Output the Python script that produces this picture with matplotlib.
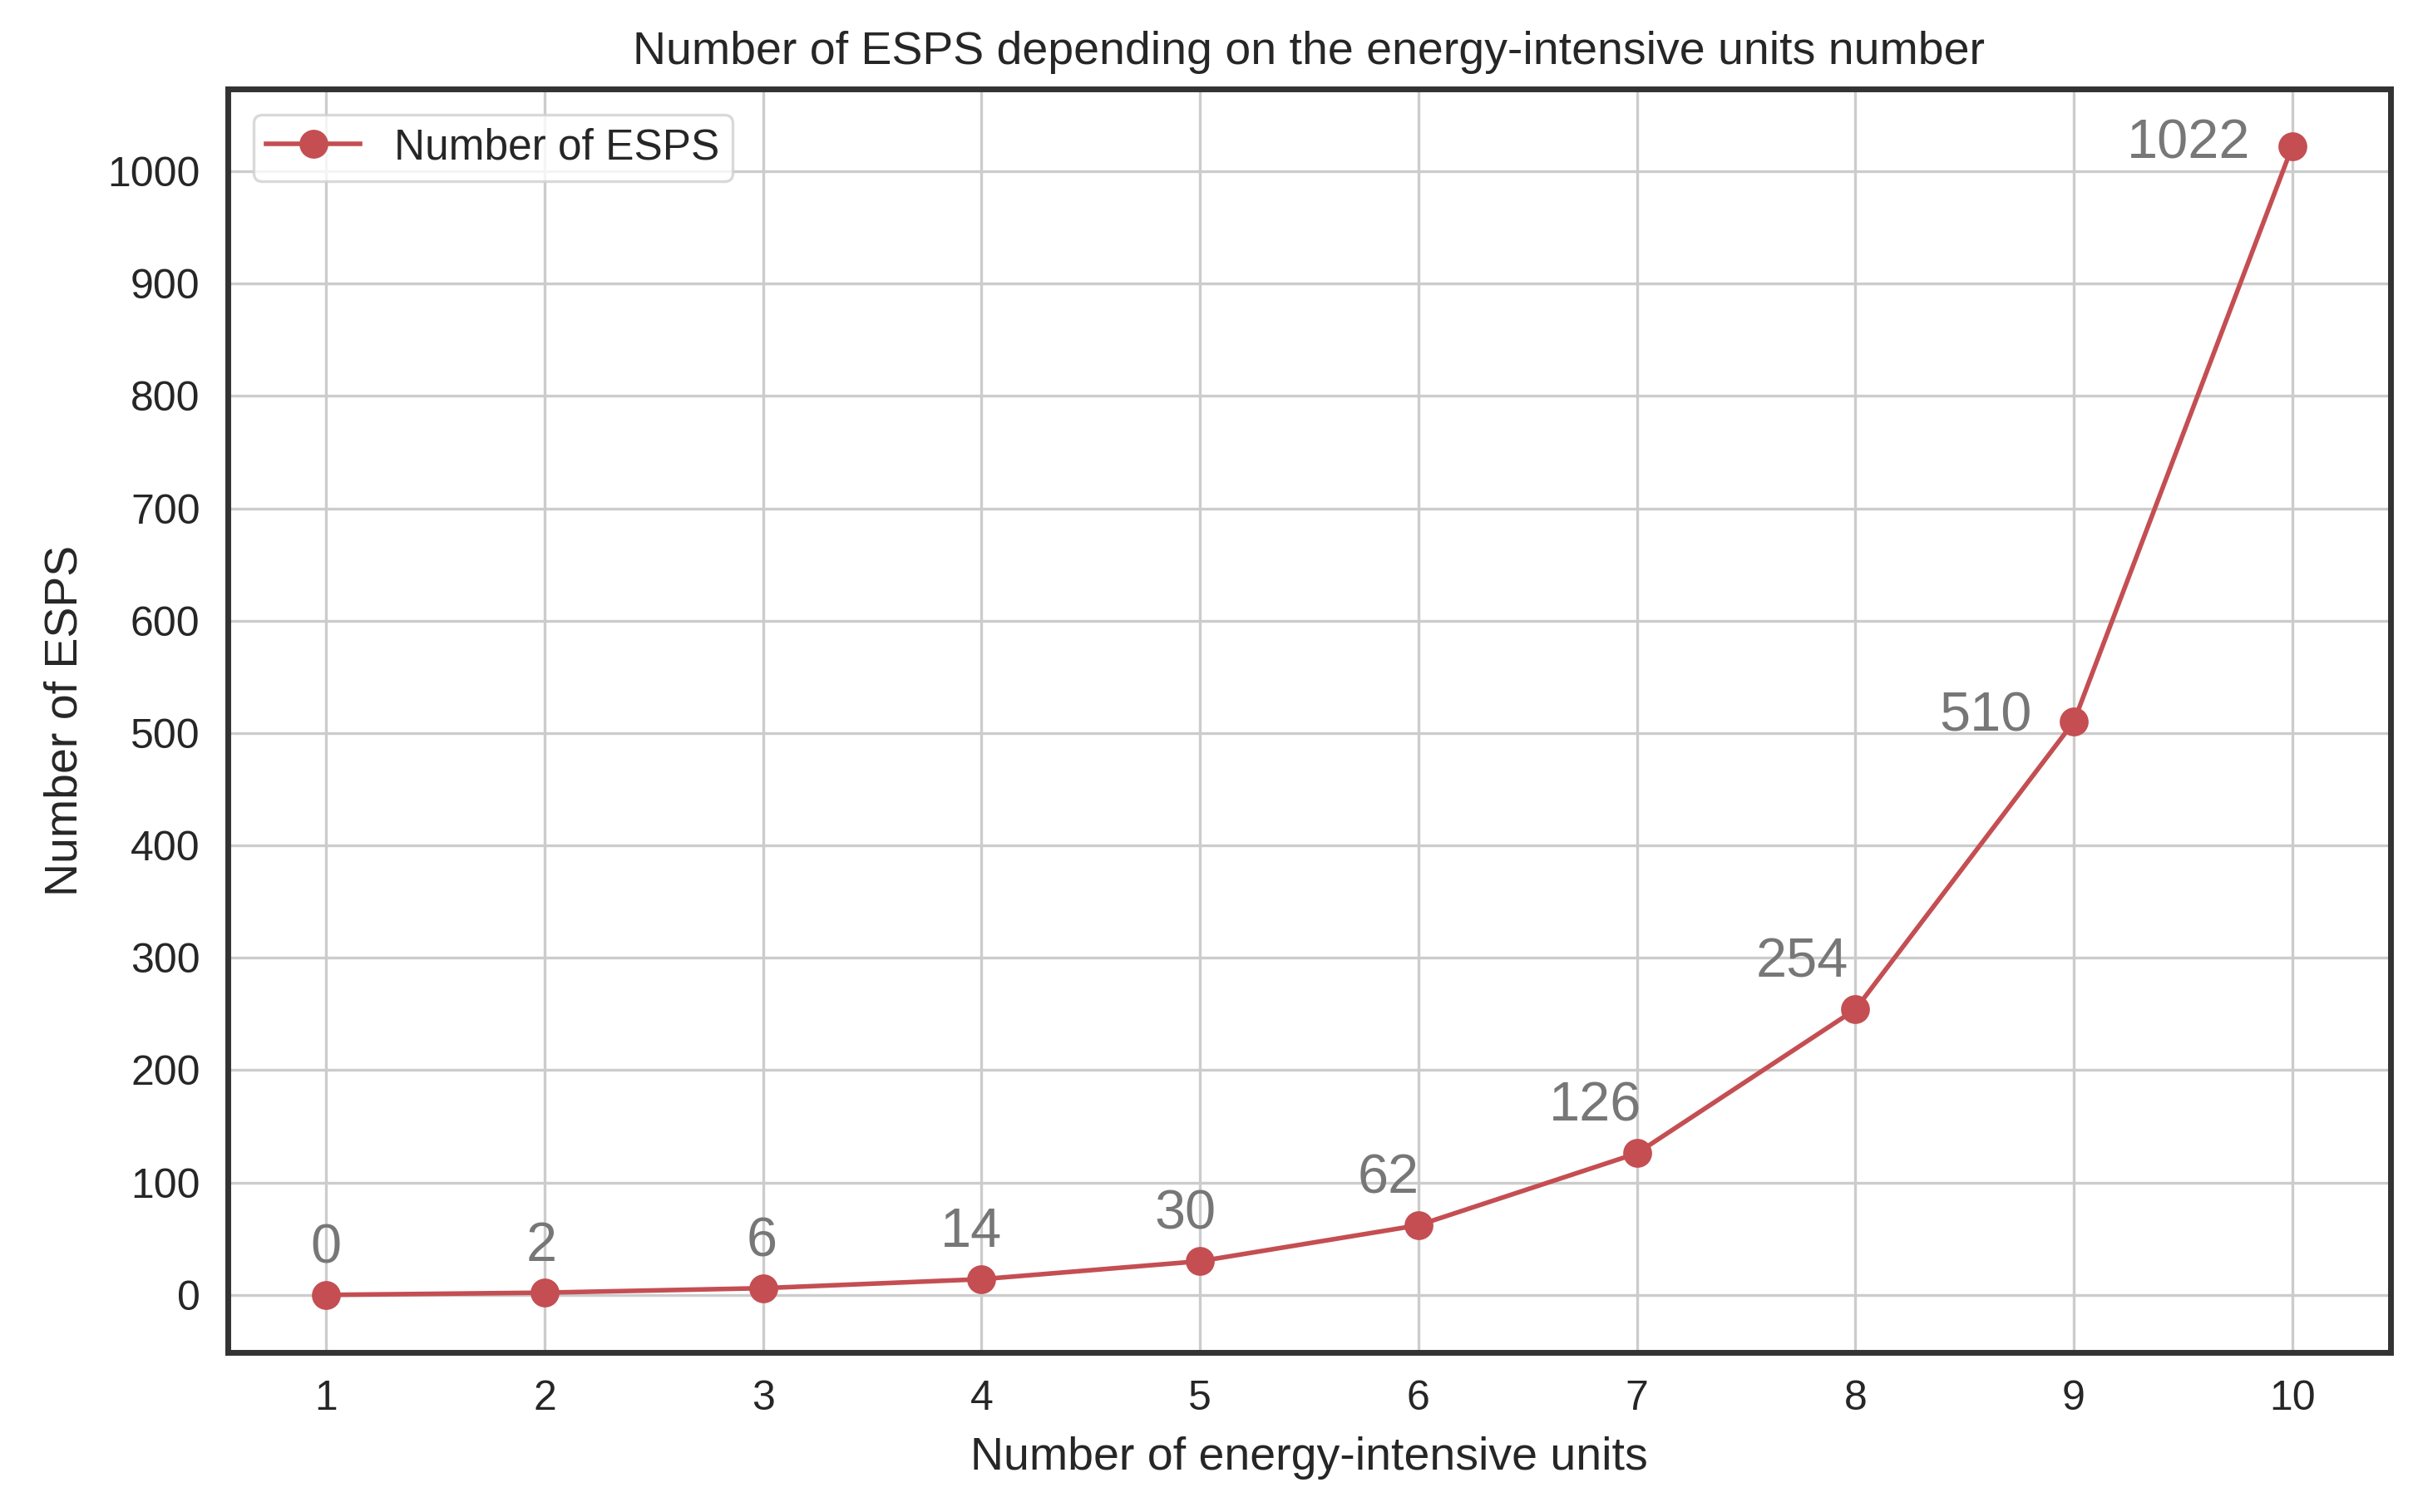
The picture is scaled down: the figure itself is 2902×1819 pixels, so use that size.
## Modules ##
import matplotlib
matplotlib.use("Agg")
import matplotlib.pyplot as plt
from matplotlib.ticker import MultipleLocator

## Data ##
units = [1, 2, 3, 4, 5, 6, 7, 8, 9, 10]             #Number of energy-intensive units
esps = [0, 2, 6, 14, 30, 62, 126, 254, 510, 1022]   #Number of ESPS

#Label offsets (points) for the value annotations
labelOffsets = [(0, 20), (-1.5, 20), (-0.7, 20), (-4.5, 20), (-6.5, 20),
                (-13, 20), (-18, 20), (-23, 20), (-38, 2), (-45, 1)]

## Style ##
plt.rcParams['font.family'] = ['Liberation Sans', 'DejaVu Sans']
textColor = '#262626'

fig = plt.figure(figsize=(14.51, 9.095), dpi=200)
ax = fig.add_axes([0.0944, 0.1056, 0.8963, 0.8355])

ax.plot(units, esps, color='#c44e52', marker='o', markersize=11.5,
        linewidth=2, label='Number of ESPS')

#Value labels
for x, y, off in zip(units, esps, labelOffsets):
    ax.annotate(str(y), (x, y), xytext=off, textcoords='offset points',
                ha='center', va='center', fontsize=24, color='#777777')

ax.yaxis.set_major_locator(MultipleLocator(100))
ax.set_xticks(units)
ax.grid(True, color='#cccccc', linewidth=1.2)
ax.set_axisbelow(True)

for s in ax.spines.values():
    s.set_color('#333333')
    s.set_linewidth(2.5)

ax.tick_params(axis='both', length=0, labelsize=18, labelcolor=textColor, pad=12)

ax.set_title('Number of ESPS depending on the energy-intensive units number',
             fontsize=20, color=textColor, pad=11)
ax.set_xlabel('Number of energy-intensive units', fontsize=20, color=textColor, labelpad=8)
ax.set_ylabel('Number of ESPS', fontsize=20, color=textColor, labelpad=9)

leg = ax.legend(loc='upper left', fontsize=18.5, frameon=True, borderpad=0.3,
                handlelength=2.2, borderaxespad=0.6)
leg.get_frame().set_edgecolor('#d0d0d0')
leg.get_frame().set_linewidth(1.2)
for t in leg.get_texts():
    t.set_color(textColor)

fig.savefig('out.png', dpi=200)
